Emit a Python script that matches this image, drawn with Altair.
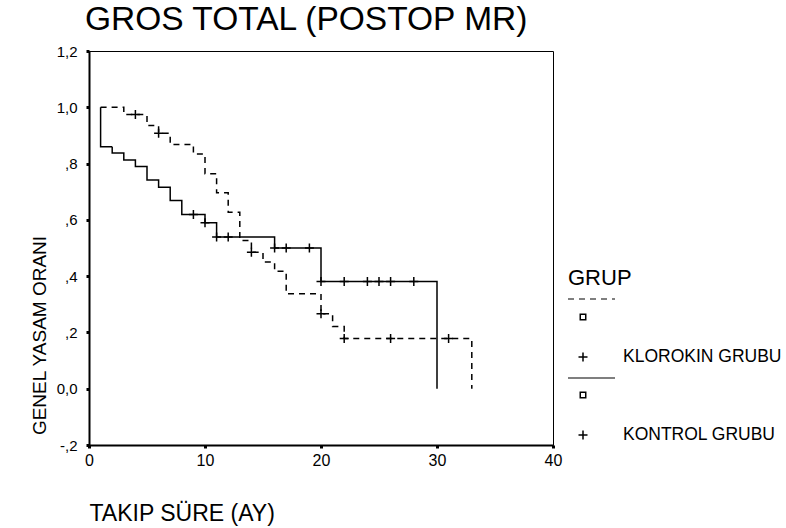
import json

import altair as alt
import pandas as pd

FONT = "Liberation Sans"

GROUPS = ["KLOROKIN GRUBU", "KONTROL GRUBU"]

# Kaplan-Meier steps: time (months) and survival after each event
KLOROKIN_TIME = [1, 3, 5, 6, 7, 9, 10, 11, 12, 13, 14, 15, 16, 17, 20, 21, 22, 33]
KLOROKIN_SURV = [1.0, 0.974, 0.935, 0.908, 0.868, 0.834, 0.764, 0.696, 0.627,
                 0.527, 0.485, 0.45, 0.417, 0.337, 0.266, 0.221, 0.178, 0.0]
KLOROKIN_CENS_TIME = [4, 6, 14, 20, 22, 26, 31]
KLOROKIN_CENS_SURV = [0.974, 0.908, 0.485, 0.266, 0.178, 0.178, 0.178]

KONTROL_TIME = [1, 1, 2, 3, 4, 5, 6, 7, 8, 10, 11, 16, 20, 30]
KONTROL_SURV = [1.0, 0.86, 0.838, 0.813, 0.79, 0.742, 0.716, 0.669, 0.619,
                0.59, 0.539, 0.50, 0.381, 0.0]
KONTROL_CENS_TIME = [9, 10, 11, 12, 16, 17, 19, 20, 22, 24, 25, 26, 28]
KONTROL_CENS_SURV = [0.619, 0.59, 0.539, 0.539, 0.50, 0.50, 0.50,
                     0.381, 0.381, 0.381, 0.381, 0.381, 0.381]

X_TICKS = [0, 10, 20, 30, 40]
Y_TICKS = [-0.2, 0.0, 0.2, 0.4, 0.6, 0.8, 1.0, 1.2]
Y_LABELS = ["-,2", "0,0", ",2", ",4", ",6", ",8", "1,0", "1,2"]

steps = pd.concat([
    pd.DataFrame({"time": KLOROKIN_TIME, "surv": KLOROKIN_SURV,
                  "grup": GROUPS[0], "ord": range(len(KLOROKIN_TIME))}),
    pd.DataFrame({"time": KONTROL_TIME, "surv": KONTROL_SURV,
                  "grup": GROUPS[1], "ord": range(len(KONTROL_TIME))}),
], ignore_index=True)

censored = pd.concat([
    pd.DataFrame({"time": KLOROKIN_CENS_TIME, "surv": KLOROKIN_CENS_SURV, "grup": GROUPS[0]}),
    pd.DataFrame({"time": KONTROL_CENS_TIME, "surv": KONTROL_CENS_SURV, "grup": GROUPS[1]}),
], ignore_index=True)

PLUS = "M-1,0H1M0,-1V1"

x_enc = alt.X(
    "time:Q",
    scale=alt.Scale(domain=[0, 40], nice=False, zero=False),
    axis=alt.Axis(
        values=X_TICKS, grid=False, title="TAKIP SÜRE (AY)", labelFlush=False,
        labelFont=FONT, labelFontSize=16, labelColor="black", labelPadding=4,
        tickSize=3, tickWidth=3, tickColor="black",
        domainColor="black", domainWidth=2,
        titleFont=FONT, titleFontSize=23, titleFontWeight="normal", titleColor="black",
        titleX=0, titleY=75, titleAlign="left", titleBaseline="alphabetic",
    ),
)
y_enc = alt.Y(
    "surv:Q",
    scale=alt.Scale(domain=[-0.2, 1.2], nice=False, zero=False),
    axis=alt.Axis(
        values=Y_TICKS, grid=False, title="GENEL YASAM ORANI", labelFlush=False,
        labelExpr=f"{json.dumps(Y_LABELS)}[round((datum.value + 0.2) * 5)]",
        labelFont=FONT, labelFontSize=15, labelColor="black", labelPadding=9,
        tickSize=3, tickWidth=3, tickColor="black",
        domainColor="black", domainWidth=2,
        titleFont=FONT, titleFontSize=19, titleFontWeight="normal", titleColor="black",
        titleAngle=270, titleX=-44, titleY=284, titleAlign="center",
        titleBaseline="alphabetic",
    ),
)

dash_scale = alt.Scale(domain=GROUPS, range=[[6, 5], [1, 0]])

curves = alt.Chart(steps).mark_line(
    interpolate="step-after", color="black", strokeWidth=1.5
).encode(
    x=x_enc, y=y_enc,
    strokeDash=alt.StrokeDash("grup:N", scale=dash_scale, legend=None),
    order="ord:Q",
)

marks = alt.Chart(censored).mark_point(
    shape=PLUS, filled=False, color="black", size=81, strokeWidth=1.5, opacity=1
).encode(x="time:Q", y="surv:Q")

# Key drawn to the right of the plot
one = pd.DataFrame({"k": [0]})


def key_text(label, px, py, size):
    return alt.Chart(one).mark_text(
        text=label, font=FONT, fontSize=size, align="left", baseline="middle", color="black"
    ).encode(x=alt.value(px), y=alt.value(py))


def key_rule(py, dash):
    return alt.Chart(one).mark_rule(color="black", strokeWidth=1.2, strokeDash=dash).encode(
        x=alt.value(479), x2=alt.value(526), y=alt.value(py)
    )


def key_symbol(shape, py, size, sw):
    return alt.Chart(one).mark_point(
        shape=shape, filled=False, color="black", size=size, strokeWidth=sw, opacity=1
    ).encode(x=alt.value(494), y=alt.value(py))


key = [
    key_text("GRUP", 479, 227, 22),
    key_rule(248, [6, 5]),
    key_symbol("square", 266, 30, 1.5),
    key_symbol(PLUS, 306, 81, 1.5),
    key_text(GROUPS[0], 534, 306, 17.5),
    key_rule(327, [1, 0]),
    key_symbol("square", 344, 30, 1.5),
    key_symbol(PLUS, 384, 81, 1.5),
    key_text(GROUPS[1], 534, 384, 17.5),
]

chart = alt.layer(curves, marks, *key).properties(
    width=464,
    height=394,
    title=alt.TitleParams(
        text="GROS TOTAL (POSTOP MR)", anchor="start", frame="group",
        font=FONT, fontSize=33.5, fontWeight="normal", color="black",
        dx=-4, dy=30, offset=11, baseline="alphabetic",
    ),
    autosize=alt.AutoSizeParams(type="none"),
    padding={"left": 89, "top": 51, "right": 233, "bottom": 83},
    background="white",
).configure_view(stroke="black", strokeWidth=1)

chart.save("out.html", embed_options={"renderer": "svg", "actions": False})
